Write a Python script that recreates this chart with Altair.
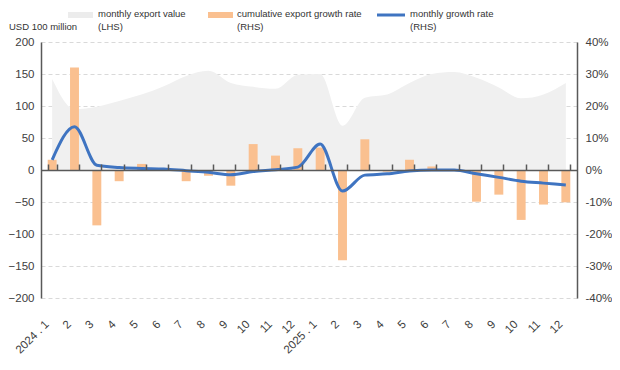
import json
import altair as alt
import pandas as pd

# ---------------- data ----------------
periods = [f"2024-{m:02d}" for m in range(1, 13)] + [f"2025-{m:02d}" for m in range(1, 13)]
period_labels = ["2024 . 1"] + [str(m) for m in range(2, 13)] + ["2025 . 1"] + [str(m) for m in range(2, 13)]

# monthly export value, USD 100 million (LHS)
export_value = [142, 95, 99, 108, 118, 131, 147, 155, 136, 130, 127, 149,
                150, 69, 113, 118, 136, 150, 153, 144, 129, 112, 118, 136]
# cumulative export growth rate, % (RHS)
cum_growth = [3.2, 32.0, -17.3, -3.5, 1.9, -0.3, -3.5, -1.8, -4.9, 8.1, 4.5, 6.8,
              7.0, -28.2, 9.6, -0.5, 3.2, 1.1, 0.2, -9.9, -7.7, -15.6, -10.8, -10.1]
# monthly growth rate, % (RHS)
monthly_growth = [3.2, 13.5, 1.5, 0.8, 0.5, 0.3, -0.2, -0.7, -1.5, -0.5, 0.1, 0.9,
                  8.1, -6.6, -1.6, -1.2, -0.3, 0.0, 0.0, -1.2, -2.3, -3.5, -4.1, -4.7]

left_ticks = list(range(-200, 201, 50))
right_ticks = list(range(-40, 41, 10))

legend_unit = "USD 100 million"
legend_items = [("monthly export value", "(LHS)"),
                ("cumulative export growth rate", "(RHS)"),
                ("monthly growth rate", "(RHS)")]

df = pd.DataFrame({
    "period": periods,
    "value": export_value,
    "cum": cum_growth,
    "mgr": monthly_growth,
})

# ---------------- styles ----------------
FONT = "Liberation Sans"
TXT = "#404040"
AX = "#595959"
GRAY = "#f0f0f0"
ORANGE = "#fac090"
BLUE = "#3f74c1"

label_map = json.dumps(dict(zip(periods, period_labels)))
xscale = alt.Scale(domain=periods, paddingInner=0.6, paddingOuter=0.3)

area = alt.Chart(df).mark_area(color=GRAY, interpolate="monotone").encode(
    x=alt.X("period:N", sort=periods, scale=xscale, bandPosition=0.5,
            axis=alt.Axis(orient="bottom", title=None, domain=False, ticks=False, tickSize=0,
                          labelAngle=-45, labelExpr=f"{label_map}[datum.value]",
                          labelFont=FONT, labelFontSize=11.5, labelColor=TXT,
                          labelPadding=20, labelOffset=-9, labelOverlap=False)),
    y=alt.Y("value:Q", scale=alt.Scale(domain=[-200, 200], nice=False, zero=False),
            axis=alt.Axis(orient="left", title=None, values=left_ticks, grid=True,
                          gridDash=[4, 3], gridColor="#d9d9d9", ticks=False,
                          domainColor=AX, domainWidth=1.5, labelFont=FONT,
                          labelFontSize=11.5, labelColor=TXT, labelPadding=7)),
)

bars = alt.Chart(df).mark_bar(color=ORANGE).encode(
    x=alt.X("period:N", sort=periods, scale=xscale,
            axis=alt.Axis(orient="top", offset=-128, title=None, labels=False,
                          tickBand="extent", tickSize=6, tickColor=AX, tickWidth=1.5,
                          domainColor=AX, domainWidth=1.5, zindex=1, grid=False)),
    y=alt.Y("cum:Q", scale=alt.Scale(domain=[-40, 40], nice=False, zero=False),
            axis=alt.Axis(orient="right", title=None, values=right_ticks,
                          labelExpr="datum.value + '%'", grid=False, ticks=False,
                          domainColor=AX, domainWidth=1.5, labelFont=FONT,
                          labelFontSize=11.5, labelColor=TXT, labelPadding=8)),
)

line = alt.Chart(df).mark_line(color=BLUE, strokeWidth=3, interpolate="monotone").encode(
    x=alt.X("period:N", sort=periods, scale=xscale, bandPosition=0.5, axis=None),
    y=alt.Y("mgr:Q", scale=alt.Scale(domain=[-40, 40], nice=False, zero=False), axis=None),
)

one = pd.DataFrame({"k": [0]})


def legend_text(txt, x, y):
    return alt.Chart(one).mark_text(align="left", baseline="middle", font=FONT,
                                    fontSize=9.5, color="#333333").encode(
        x=alt.value(x), y=alt.value(y), text=alt.value(txt))


leg = [
    legend_text(legend_unit, -32, -15),
    alt.Chart(one).mark_rect(color="#ececec").encode(
        x=alt.value(27), x2=alt.value(52), y=alt.value(-30), y2=alt.value(-24)),
    legend_text(legend_items[0][0], 57, -28),
    legend_text(legend_items[0][1], 57, -15),
    alt.Chart(one).mark_rect(color=ORANGE).encode(
        x=alt.value(167), x2=alt.value(192), y=alt.value(-30), y2=alt.value(-24)),
    legend_text(legend_items[1][0], 196, -28),
    legend_text(legend_items[1][1], 196, -15),
    alt.Chart(one).mark_rule(color=BLUE, strokeWidth=3).encode(
        x=alt.value(336), x2=alt.value(364), y=alt.value(-27)),
    legend_text(legend_items[2][0], 369, -28),
    legend_text(legend_items[2][1], 369, -15),
]

chart = alt.layer(area, bars, line, *leg).resolve_scale(
    y="independent"
).resolve_axis(x="independent", y="independent").properties(
    width=536, height=256,
    autosize=alt.AutoSizeParams(type="none"),
    padding={"left": 33, "top": 34, "right": 35, "bottom": 64},
    background="white",
).configure_view(stroke=None)

chart.save("out.html", embed_options={"renderer": "svg", "actions": False})
